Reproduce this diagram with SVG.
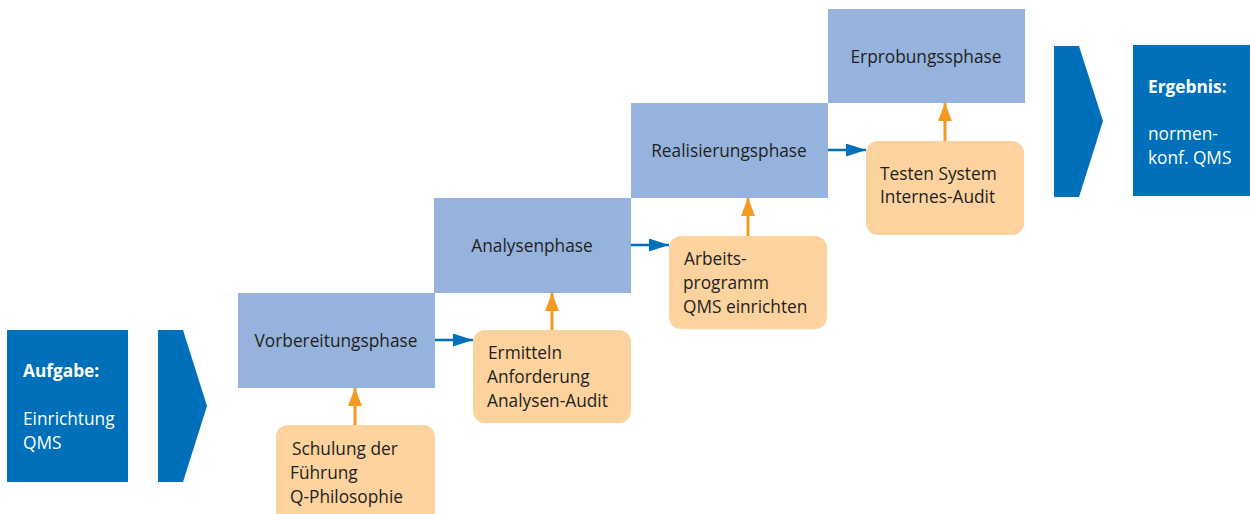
<svg xmlns="http://www.w3.org/2000/svg" width="1250" height="514" viewBox="0 0 1250 514">
<defs>
<style>
.dark{fill:#0070BA}
.phase{fill:#95B3DD}
.act{fill:#FCD29E}
.t{font-family:"Open Sans","Noto Sans",sans-serif;font-size:17.3px;fill:#231F20}
.w{font-family:"Open Sans","Noto Sans",sans-serif;font-size:17.3px;fill:#FFFFFF}
.b{font-weight:bold}
.blue{stroke:#0070BA;stroke-width:2.5;fill:none}
.or{stroke:#F39A22;stroke-width:3;fill:none}
</style>
<marker id="ab" viewBox="0 0 20 13" refX="20" refY="6.5" markerWidth="20" markerHeight="13" markerUnits="userSpaceOnUse" orient="auto"><path d="M0,0 L20,6.5 L0,13 z" fill="#0070BA"/></marker>
<marker id="ao" viewBox="0 0 18 14" refX="18" refY="7" markerWidth="18" markerHeight="14" markerUnits="userSpaceOnUse" orient="auto"><path d="M0,0 L18,7 L0,14 z" fill="#F39A22"/></marker>
</defs>
<rect width="1250" height="514" fill="#FFFFFF"/>
<g id="aufgabe">
<rect class="dark" x="7" y="330" width="121" height="152"/>
<text class="w b" x="23" y="377">Aufgabe:</text>
<text class="w" x="23" y="425">Einrichtung</text>
<text class="w" x="23" y="449">QMS</text>
</g>
<g id="chevron-left"><polygon class="dark" points="158,330 183,330 207,406 183,482 158,482"/></g>
<g id="vorbereitung">
<rect class="phase" x="238" y="293" width="197" height="95"/>
<text class="t" x="336" y="347" text-anchor="middle">Vorbereitungsphase</text>
</g>
<g id="analyse">
<rect class="phase" x="434" y="198" width="197" height="95"/>
<text class="t" x="532" y="252" text-anchor="middle">Analysenphase</text>
</g>
<g id="realisierung">
<rect class="phase" x="631" y="103" width="197" height="95"/>
<text class="t" x="729" y="157" text-anchor="middle">Realisierungsphase</text>
</g>
<g id="erprobung">
<rect class="phase" x="828" y="9" width="197" height="94"/>
<text class="t" x="926" y="63" text-anchor="middle">Erprobungssphase</text>
</g>
<g id="schulung">
<rect class="act" x="276" y="425" width="159" height="100" rx="12"/>
<text class="t" x="292" y="455">Schulung der</text>
<text class="t" x="290" y="479">Führung</text>
<text class="t" x="290" y="503">Q-Philosophie</text>
</g>
<g id="ermitteln">
<rect class="act" x="473" y="330" width="158" height="93" rx="12"/>
<text class="t" x="488" y="359">Ermitteln</text>
<text class="t" x="487" y="383">Anforderung</text>
<text class="t" x="487" y="407">Analysen-Audit</text>
</g>
<g id="arbeitsprogramm">
<rect class="act" x="669" y="236" width="158" height="93" rx="12"/>
<text class="t" x="684" y="265">Arbeits-</text>
<text class="t" x="683" y="289">programm</text>
<text class="t" x="683" y="313">QMS einrichten</text>
</g>
<g id="testen">
<rect class="act" x="866" y="141" width="158" height="94" rx="12"/>
<text class="t" x="880" y="180">Testen System</text>
<text class="t" x="880" y="203">Internes-Audit</text>
</g>
<g id="chevron-right"><polygon class="dark" points="1054,46 1079,46 1103,121 1079,197 1054,197"/></g>
<g id="ergebnis">
<rect class="dark" x="1133" y="45" width="117" height="151"/>
<text class="w b" x="1148" y="93">Ergebnis:</text>
<text class="w" x="1148" y="140">normen-</text>
<text class="w" x="1148" y="164">konf. QMS</text>
</g>
<g id="connectors">
<line class="blue" x1="435" y1="340" x2="473" y2="340" marker-end="url(#ab)"/>
<line class="blue" x1="631" y1="245" x2="669" y2="245" marker-end="url(#ab)"/>
<line class="blue" x1="828" y1="150" x2="866" y2="150" marker-end="url(#ab)"/>
<line class="or" x1="355" y1="425" x2="355" y2="388" marker-end="url(#ao)"/>
<line class="or" x1="552" y1="330" x2="552" y2="293" marker-end="url(#ao)"/>
<line class="or" x1="748" y1="236" x2="748" y2="198" marker-end="url(#ao)"/>
<line class="or" x1="945" y1="141" x2="945" y2="103" marker-end="url(#ao)"/>
</g>
</svg>
